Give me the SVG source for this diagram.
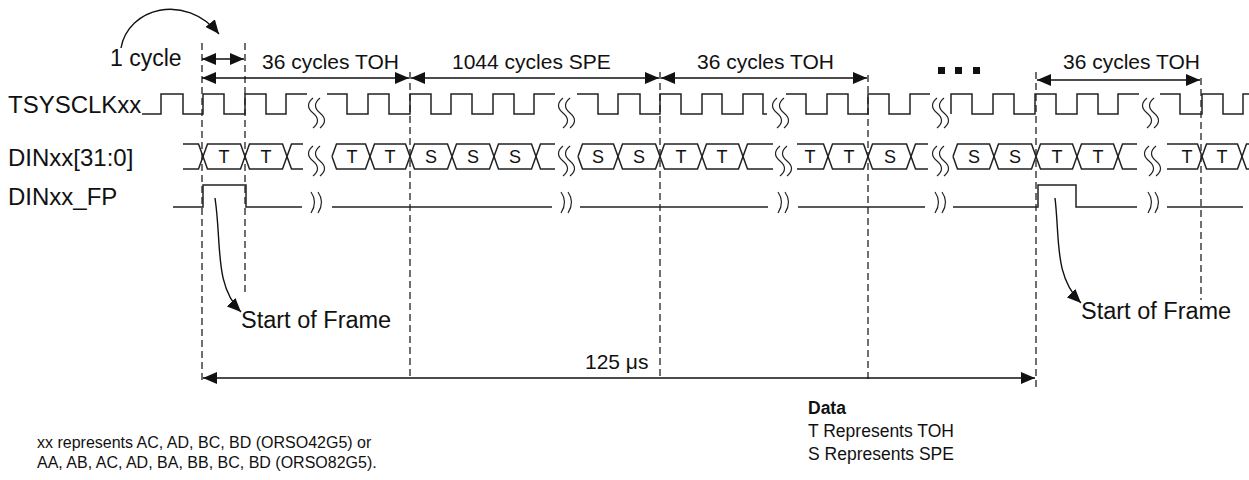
<svg xmlns="http://www.w3.org/2000/svg" xmlns:xlink="http://www.w3.org/1999/xlink" width="1249" height="480" viewBox="0 0 1249 480">
<style>
text{font-family:"Liberation Sans",Arial,sans-serif;fill:#111}
.lbl{font-size:24px}
.dim{font-size:21px}
.cell{font-size:18px;text-anchor:middle}
.note{font-size:16px}
.leg{font-size:17.5px}
.wave{fill:none;stroke:#222;stroke-width:1.5}
.dash{fill:none;stroke:#333;stroke-width:1.4;stroke-dasharray:7 4}
.arr{fill:none;stroke:#111;stroke-width:1.4}
.sq{fill:none;stroke:#222;stroke-width:1.2}
</style>
<defs>
<marker id="ah" markerUnits="userSpaceOnUse" markerWidth="14" markerHeight="12" refX="14" refY="6" orient="auto-start-reverse">
<path d="M0,0 L14,6 L0,12 z" fill="#111"/>
</marker>
<path id="sqw" d="M0,0 C-6,5 -6,10 0,15 C6,20 6,25 0,30 M7,0 C1,5 1,10 7,15 C13,20 13,25 7,30"/>
<path id="sqa" d="M0,0 Q7,10 0,21 M7,0 Q14,10 7,21"/>
</defs>
<rect width="1249" height="480" fill="#fff"/>

<g id="labels">
<text class="lbl" x="8" y="113">TSYSCLKxx</text>
<text class="lbl" x="8" y="166">DINxx[31:0]</text>
<text class="lbl" x="8" y="205">DINxx_FP</text>
</g>

<g id="guides">
<line class="dash" x1="202" y1="43" x2="202" y2="380"/>
<line class="dash" x1="245" y1="43" x2="245" y2="292"/>
<line class="dash" x1="410" y1="72" x2="410" y2="380"/>
<line class="dash" x1="660" y1="72" x2="660" y2="380"/>
<line class="dash" x1="868" y1="75" x2="868" y2="380"/>
<line class="dash" x1="1036" y1="72" x2="1036" y2="388"/>
<line class="dash" x1="1201" y1="78" x2="1201" y2="300"/>
</g>

<g id="clock">
<path class="wave" d="M142,114 H161 V94 H183 V114 H203 V94 H224 V114 H245 V94 H266 V114 H286 V94 H307"/>
<path class="wave" d="M327,94 H347 V114 H368 V94 H389 V114 H410 V94 H431 V114 H451 V94 H472 V114 H493 V94 H514 V114 H534 V94 H555"/>
<path class="wave" d="M577,94 H598 V114 H618 V94 H640 V114 H660 V94 H681 V114 H702 V94 H722 V114 H743 V94 H763 V114 H767"/>
<path class="wave" d="M786,94 H806 V114 H827 V94 H848 V114 H868 V94 H889 V114 H910 V94 H930"/>
<path class="wave" d="M951,114 V94 H972 V114 H993 V94 H1014 V114 H1035 V94 H1056 V114 H1077 V94 H1098 V114 H1118 V94 H1139"/>
<path class="wave" d="M1160,94 H1180 V114 H1202 V94 H1223 V114 H1243 V94 H1249"/>
<use href="#sqw" class="sq" transform="translate(313,98)"/>
<use href="#sqw" class="sq" transform="translate(563,98)"/>
<use href="#sqw" class="sq" transform="translate(777,98)"/>
<use href="#sqw" class="sq" transform="translate(937,98)"/>
<use href="#sqw" class="sq" transform="translate(1147,98)"/>
</g>

<g id="data">
<path class="wave" d="M183,144 H198.5 L207.5,169 H240.5 L249.5,144 H282.5 L291.5,169 H303"/>
<path class="wave" d="M183,169 H198.5 L207.5,144 H240.5 L249.5,169 H282.5 L291.5,144 H303"/>
<path class="wave" d="M332,156.5 L336.5,144 H365.5 L374.5,169 H405.5 L414.5,144 H447.5 L456.5,169 H489.5 L498.5,144 H531.5 L540.5,169 H555"/>
<path class="wave" d="M332,156.5 L336.5,169 H365.5 L374.5,144 H405.5 L414.5,169 H447.5 L456.5,144 H489.5 L498.5,169 H531.5 L540.5,144 H555"/>
<path class="wave" d="M578,156.5 L582.5,144 H613.5 L622.5,169 H655.5 L664.5,144 H697.5 L706.5,169 H738.5 L747.5,144 H773"/>
<path class="wave" d="M578,156.5 L582.5,169 H613.5 L622.5,144 H655.5 L664.5,169 H697.5 L706.5,144 H738.5 L747.5,169 H773"/>
<path class="wave" d="M797,144 H823.5 L832.5,169 H863.5 L872.5,144 H906.5 L915.5,169 H928"/>
<path class="wave" d="M797,169 H823.5 L832.5,144 H863.5 L872.5,169 H906.5 L915.5,144 H928"/>
<path class="wave" d="M953,156.5 L957.5,144 H989.5 L998.5,169 H1031.5 L1040.5,144 H1072.5 L1081.5,169 H1113.5 L1122.5,144 H1137"/>
<path class="wave" d="M953,156.5 L957.5,169 H989.5 L998.5,144 H1031.5 L1040.5,169 H1072.5 L1081.5,144 H1113.5 L1122.5,169 H1137"/>
<path class="wave" d="M1167,144 H1197.5 L1206.5,169 H1237.5 L1246.5,144 H1249"/>
<path class="wave" d="M1167,169 H1197.5 L1206.5,144 H1237.5 L1246.5,169 H1249"/>
<use href="#sqw" class="sq" transform="translate(313,146)"/>
<use href="#sqw" class="sq" transform="translate(563,146)"/>
<use href="#sqw" class="sq" transform="translate(780,146)"/>
<use href="#sqw" class="sq" transform="translate(937,146)"/>
<use href="#sqw" class="sq" transform="translate(1149,146)"/>
<text class="cell" x="224" y="163">T</text>
<text class="cell" x="266" y="163">T</text>
<text class="cell" x="352" y="163">T</text>
<text class="cell" x="390" y="163">T</text>
<text class="cell" x="431" y="163">S</text>
<text class="cell" x="473" y="163">S</text>
<text class="cell" x="515" y="163">S</text>
<text class="cell" x="598" y="163">S</text>
<text class="cell" x="639" y="163">S</text>
<text class="cell" x="681" y="163">T</text>
<text class="cell" x="722" y="163">T</text>
<text class="cell" x="810" y="163">T</text>
<text class="cell" x="849" y="163">T</text>
<text class="cell" x="890" y="163">S</text>
<text class="cell" x="974" y="163">S</text>
<text class="cell" x="1015" y="163">S</text>
<text class="cell" x="1057" y="163">T</text>
<text class="cell" x="1098" y="163">T</text>
<text class="cell" x="1187" y="163">T</text>
<text class="cell" x="1222" y="163">T</text>
</g>

<g id="framepulse">
<path class="wave" d="M173,207 H203 V185 H246 V207 H302"/>
<path class="wave" d="M332,207 H552"/>
<path class="wave" d="M580,207 H768"/>
<path class="wave" d="M798,207 H925"/>
<path class="wave" d="M953,207 H1038 V185 H1076 V207 H1137"/>
<path class="wave" d="M1167,207 H1243"/>
<use href="#sqa" class="sq" transform="translate(311,192)"/>
<use href="#sqa" class="sq" transform="translate(561,192)"/>
<use href="#sqa" class="sq" transform="translate(778,192)"/>
<use href="#sqa" class="sq" transform="translate(935,192)"/>
<use href="#sqa" class="sq" transform="translate(1148,192)"/>
</g>

<g id="connectors">
<path class="arr" d="M121,48 C128,8 185,-8 219,34" marker-end="url(#ah)"/>
<line class="arr" x1="202" y1="59" x2="244" y2="59" marker-start="url(#ah)" marker-end="url(#ah)"/>
<line class="arr" x1="202" y1="78" x2="409" y2="78" marker-start="url(#ah)" marker-end="url(#ah)"/>
<line class="arr" x1="411" y1="78" x2="659" y2="78" marker-start="url(#ah)" marker-end="url(#ah)"/>
<line class="arr" x1="661" y1="78" x2="867" y2="78" marker-start="url(#ah)" marker-end="url(#ah)"/>
<line class="arr" x1="1037" y1="80" x2="1200" y2="80" marker-start="url(#ah)" marker-end="url(#ah)"/>
<line class="arr" x1="203" y1="378" x2="1035" y2="378" marker-start="url(#ah)" marker-end="url(#ah)"/>
<path class="arr" d="M215,198 C222,245 214,285 241,312" marker-end="url(#ah)"/>
<path class="arr" d="M1055,198 C1060,240 1054,276 1081,303" marker-end="url(#ah)"/>
</g>

<g id="annotations">
<text x="110" y="66" style="font-size:23px">1 cycle</text>
<text class="dim" x="262" y="69">36 cycles TOH</text>
<text class="dim" x="452" y="69">1044 cycles SPE</text>
<text class="dim" x="697" y="69">36 cycles TOH</text>
<text class="dim" x="1063" y="69">36 cycles TOH</text>
<rect x="938" y="67" width="7" height="7" fill="#111"/>
<rect x="955" y="67" width="7" height="7" fill="#111"/>
<rect x="973" y="67" width="7" height="7" fill="#111"/>
<text x="241" y="328" style="font-size:23.5px">Start of Frame</text>
<text x="1081" y="319" style="font-size:23.5px">Start of Frame</text>
<text class="dim" x="585" y="369">125 μs</text>
</g>

<g id="legend">
<text class="leg" x="808" y="414" style="font-weight:bold">Data</text>
<text class="leg" x="808" y="437">T Represents TOH</text>
<text class="leg" x="808" y="460">S Represents SPE</text>
<text class="note" x="37" y="448">xx represents AC, AD, BC, BD (ORSO42G5) or</text>
<text class="note" x="37" y="468">AA, AB, AC, AD, BA, BB, BC, BD (ORSO82G5).</text>
</g>
</svg>
